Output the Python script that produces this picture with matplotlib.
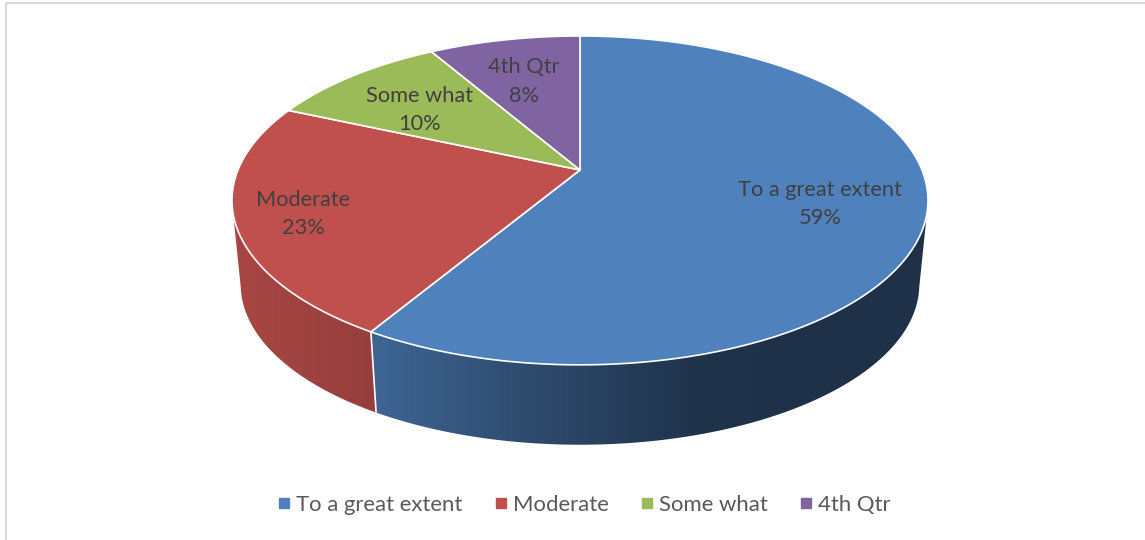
import numpy as np
import matplotlib
matplotlib.use("Agg")
import matplotlib.pyplot as plt
from matplotlib.patches import Polygon
from matplotlib.lines import Line2D
from matplotlib.colors import to_rgb

categories = ["To a great extent", "Moderate", "Some what", "4th Qtr"]
values = [58.6, 23.0, 10.0, 8.4]
colors = ["#4F81BD", "#C0504D", "#9BBB59", "#8064A2"]
label_xy = [(820, 203.5), (303, 213.5), (419, 109.5), (524, 81.5)]

W, H = 1145, 540
CX, CY = 580, 170
A, B, K = 342, 158.8, 0.185
S, DY = 0.975, 89
TEXT = "#404040"
WALL_LIMIT = -0.2


def top(theta):
    x, y = np.sin(theta), np.cos(theta)
    d = 1 + K * y
    return CX + A * x / d, CY - B * y / d


def low(theta):
    X, Y = top(theta)
    return CX + S * (X - CX), S * Y + DY


fig = plt.figure(figsize=(W / 100, H / 100), dpi=100)
ax = fig.add_axes([0, 0, 1, 1])
ax.set_xlim(0, W)
ax.set_ylim(H, 0)
ax.axis("off")

ax.plot([5.5, 5.5], [540, 2.5], color="#d9d9d9", lw=1.5, solid_capstyle="butt")
ax.plot([5.5, 1145], [2.5, 2.5], color="#d9d9d9", lw=1.5, solid_capstyle="butt")

fractions = np.cumsum([0] + values) / sum(values)
angles = 2 * np.pi * fractions
limit = np.arccos(WALL_LIMIT)

# side wall: horizontal gradient clipped to each slice's wall
grad_x = np.arange(W)
shade = np.interp(grad_x, [230, 376, 530, 700, 930], [0.88, 0.78, 0.58, 0.39, 0.38])
for i, col in enumerate(colors):
    t0 = max(angles[i], limit)
    t1 = min(angles[i + 1], 2 * np.pi - limit)
    if t1 <= t0:
        continue
    ts = np.linspace(t0, t1, 400)
    xt, yt = top(ts)
    xl, yl = low(ts)
    pts = np.column_stack([np.r_[xt, xl[::-1]], np.r_[yt, yl[::-1]]])
    base = np.array(to_rgb(col))
    img = (shade[:, None] * base)[None, :, :]
    poly = Polygon(pts, closed=True, fc="none", ec="none", transform=ax.transData)
    ax.add_patch(poly)
    im = ax.imshow(img, extent=(0, W, H, 0), aspect="auto", zorder=2, interpolation="bilinear")
    im.set_clip_path(poly)

ax.set_xlim(0, W)
ax.set_ylim(H, 0)

# wall divider
for t in angles:
    if np.cos(t) < WALL_LIMIT:
        xa, ya = top(t)
        xd, yd = low(t)
        ax.plot([xa, xd], [ya, yd], color="white", lw=1.2, zorder=3, solid_capstyle="butt")

# top face
for i, col in enumerate(colors):
    ts = np.linspace(angles[i], angles[i + 1], 300)
    xs, ys = top(ts)
    pts = np.column_stack([np.r_[CX, xs], np.r_[CY, ys]])
    ax.add_patch(Polygon(pts, closed=True, fc=col, ec="white", lw=1.2, joinstyle="round", zorder=4))

# data labels
for (x, y), c, v in zip(label_xy, categories, values):
    ax.text(x, y, f"{c}\n{v:.0f}%", ha="center", va="center", fontsize=15.7,
            family="Lato", color=TEXT, linespacing=1.5, zorder=6)

handles = [Line2D([], [], ls="none", marker="s", ms=6.5, mfc=c, mec=c) for c in colors]
ax.legend(handles, categories, loc="center", bbox_to_anchor=(584.5, 505), bbox_transform=ax.transData,
          ncol=4, frameon=False, handlelength=0.5, handletextpad=0.3, columnspacing=1.47,
          prop={"family": "Lato", "size": 15.9}, labelcolor="#595959")

fig.savefig("out.png", dpi=100)
